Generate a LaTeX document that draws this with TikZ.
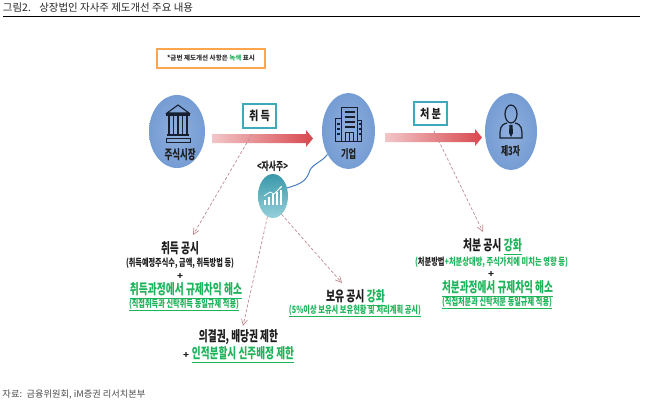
\documentclass[tikz,border=0pt]{standalone}
\usepackage{graphicx}
\usepackage{fontspec}
\setmainfont{Noto Sans CJK KR}
\usetikzlibrary{shapes.geometric,arrows.meta}
\definecolor{grn}{HTML}{1DB45A}
\definecolor{blk}{HTML}{1E1E1E}
\definecolor{icon}{HTML}{16202E}
\definecolor{tealb}{HTML}{3FA9BC}
\definecolor{arrowred}{HTML}{D8484E}
\definecolor{arrowpale}{HTML}{F2C6C8}
\definecolor{actorblue}{HTML}{759CD4}
\definecolor{curveblue}{HTML}{4A7DBE}
\definecolor{dashpink}{HTML}{C08A92}
\newcommand{\fitb}[3]{\resizebox{#1pt}{#2pt}{\bfseries #3}}
\newcommand{\ul}[1]{\underline{#1}}
\tikzset{
  x=1pt,y=-1pt,
  txt/.style={inner sep=0pt,outer sep=0pt,anchor=center,text=blk},
  gtxt/.style={txt,text=grn},
  actor/.style={ellipse,inner sep=0pt,draw=none,inner color=#1!80!white,outer color=#1},
  tag/.style={draw=tealb,line width=1.4pt,fill=white,inner sep=0pt,text=blk},
  bigarrow/.style={left color=arrowpale,middle color=arrowred,right color=arrowred,draw=none},
  dashlink/.style={draw=dashpink,line width=.7pt,densely dashed,-{Straight Barb[length=6pt,width=6pt]}},
  ic/.style={draw=icon,line width=1pt,fill=none},
}
\begin{document}
\begin{tikzpicture}
\useasboundingbox (0,0) rectangle (654,404);
\fill[white] (0,0) rectangle (654,404);
% header
\node[txt,text=black!85] (title) at (98,7.5) {\resizebox{190pt}{!}{그림2.\hspace{.8em}상장법인 자사주 제도개선 주요 내용}};
\coordinate (ruleL) at (3,16); \coordinate (ruleR) at (640,16);
\draw[black,line width=.8pt] (ruleL) -- (ruleR);
\node[txt,text=black!70] (source) at (74,394.5) {\resizebox{143pt}{!}{자료:\hspace{.5em}금융위원회, iM증권 리서치본부}};
% legend
\node[draw=orange!70!white,line width=1.3pt,minimum width=108pt,minimum height=19pt,inner sep=0pt,fill=white] (legend) at (211,58.5) {\resizebox{88pt}{!}{\bfseries \textcolor{black!80}{*금번 제도개선 사항은} \textcolor{grn}{녹색} \textcolor{black!80}{표시}}};
% actors
\node[actor=actorblue,minimum width=56pt,minimum height=73pt] (market) at (177,131.5) {};
\node[actor=actorblue,minimum width=53pt,minimum height=76pt] (firm) at (348.5,131) {};
\node[actor=actorblue,minimum width=52pt,minimum height=77pt] (third) at (511,131.5) {};
\node[txt] (marketL) at (180,155) {\fitb{31}{11}{주식시장}};
\node[txt] (firmL) at (348.5,154) {\fitb{15}{10}{기업}};
\node[txt] (thirdL) at (510.5,151) {\fitb{19}{10}{제3자}};
% bank icon
\begin{scope}[shift={(178,122)}]
  \draw[ic,line width=1.1pt] (-11,-9) -- (0,-17) -- (11,-9) -- cycle;
  \fill[icon] (-12,-8.5) rectangle (12,-6);
  \foreach \xx in {-9,-4.5,0,4.5,9} {\draw[ic,line width=1.2pt] (\xx,-6) -- (\xx,12);}
  \fill[icon] (-11,12) rectangle (11,14);
  \draw[ic] (-12,16) rectangle (12,20);
\end{scope}
% building icon
\begin{scope}[shift={(348.5,120)}]
  \draw[ic] (-7,21) -- (-7,-12) -- (9,-12) -- (9,21);
  \draw[ic] (-7,-1) -- (-13,-1) -- (-13,21);
  \draw[ic] (9,1) -- (13,1) -- (13,21);
  \foreach \yy in {-8,-3,2,7} {\draw[icon,line width=1.8pt] (-4,\yy) -- (6,\yy);}
  \draw[ic] (-3,21) -- (-3,12) -- (5,12) -- (5,21);
  \draw[ic] (1,12) -- (1,21);
  \foreach \yy in {4,9,14} {\draw[icon,line width=1.5pt] (-11.5,\yy) -- (-9,\yy); \draw[icon,line width=1.5pt] (10,\yy) -- (12,\yy);}
  \draw[icon,line width=1.8pt] (-13.5,21.5) -- (13.5,21.5);
\end{scope}
% person icon
\begin{scope}[shift={(511,120)}]
  \draw[ic,line width=1.2pt] (0,-6) ellipse (6pt and 9pt);
  \draw[ic,line width=1.2pt] (-4,3) .. controls (-11,5) and (-11,8) .. (-11,18) -- (11,18) .. controls (11,8) and (11,5) .. (4,3);
  \fill[icon] (-1.5,5) -- (1.5,5) -- (2,13) -- (0,17) -- (-2,13) -- cycle;
\end{scope}
% big arrows
\path[bigarrow] (212,134) -- (306,134) -- (306,130) -- (313,138.5) -- (306,147) -- (306,143) -- (212,143) -- cycle;
\path[bigarrow] (385,133) -- (475,133) -- (475,129) -- (482,137.5) -- (475,146) -- (475,142) -- (385,142) -- cycle;
\node[tag,minimum width=33pt,minimum height=24pt] (buyL) at (259.5,116) {\fitb{21}{10.5}{취 득}};
\node[tag,minimum width=33pt,minimum height=23pt] (sellL) at (430.5,113.5) {\fitb{21}{10.5}{처 분}};
% treasury stock
\node[txt] (tsL) at (272.5,166) {\fitb{31}{9.5}{<자사주>}};
\node[ellipse,inner sep=0pt,minimum width=30pt,minimum height=44pt,top color=tealb!90!black,bottom color=tealb!55!white] (ts) at (273,196) {};
\begin{scope}[shift={(273,196)}]
  \foreach \xx/\hh in {-8/5,-4/8,0/11,4/13,8/15} {\fill[white] (\xx-1.4,9) rectangle (\xx+1.4,9-\hh);}
  \draw[white,line width=.8pt,-{Stealth[length=3pt]}] (-9,0) -- (-3,-4) -- (1,-2) -- (9,-10);
\end{scope}
\draw[draw=curveblue,line width=1pt] (ts.30) .. controls (302,184) and (307,180) .. (310,170) .. controls (314,163) and (322,162) .. (firm.228);
% texts
\node[txt] (t1) at (180,248) {\fitb{38}{12}{취득 공시}};
\node[txt] (t1b) at (180,263) {\fitb{108}{8.5}{(취득예정주식수, 금액, 취득방법 등)}};
\node[txt] (t1p) at (180,276) {\fitb{6}{6}{+}};
\node[gtxt] (t1c) at (186,291) {\fitb{112}{12}{\ul{취득과정에서 규제차익 해소}}};
\node[gtxt] (t1d) at (184,305) {\fitb{110}{8.5}{\ul{(직접취득과 신탁취득 동일규제 적용)}}};
\node[txt] (t2) at (238.5,337) {\fitb{79}{12}{의결권, 배당권 제한}};
\node[txt] (t2p) at (186,355) {\fitb{6}{6}{+}};
\node[gtxt] (t2b) at (243,355) {\fitb{102}{12}{\ul{인적분할시 신주배정 제한}}};
\node[txt] (t3) at (355.5,298) {\fitb{59}{12}{보유 공시 \textcolor{grn}{\ul{강화}}}};
\node[gtxt] (t3b) at (355,311) {\fitb{132}{8.5}{\ul{(5\%이상 보유시 보유현황 및 처리계획 공시)}}};
\node[txt] (t4) at (492.5,247) {\fitb{59}{12}{처분 공시 \textcolor{grn}{\ul{강화}}}};
\node[gtxt] (t4b) at (491.5,262) {\fitb{153}{8.5}{(\textcolor{blk}{처분방법}+처분상대방, 주식가치에 미치는 영향 등)}};
\node[txt] (t4p) at (491,274) {\fitb{6}{6}{+}};
\node[gtxt] (t4c) at (497.5,289) {\fitb{111}{12}{\ul{처분과정에서 규제차익 해소}}};
\node[gtxt] (t4d) at (497,303) {\fitb{110}{8.5}{\ul{(직접처분과 신탁처분 동일규제 적용)}}};
% dashed connectors
\coordinate (e1) at (193,235);
\coordinate (s1) at (252,134);
\coordinate (e2) at (243,326);
\coordinate (e3) at (342,283);
\coordinate (s4) at (434,131);
\coordinate (e4) at (483,232);
\draw[dashlink] (s1) -- (e1);
\draw[dashlink] (ts.255) -- (e2);
\draw[dashlink] (ts.295) -- (e3);
\draw[dashlink] (s4) -- (e4);
\end{tikzpicture}
\end{document}
